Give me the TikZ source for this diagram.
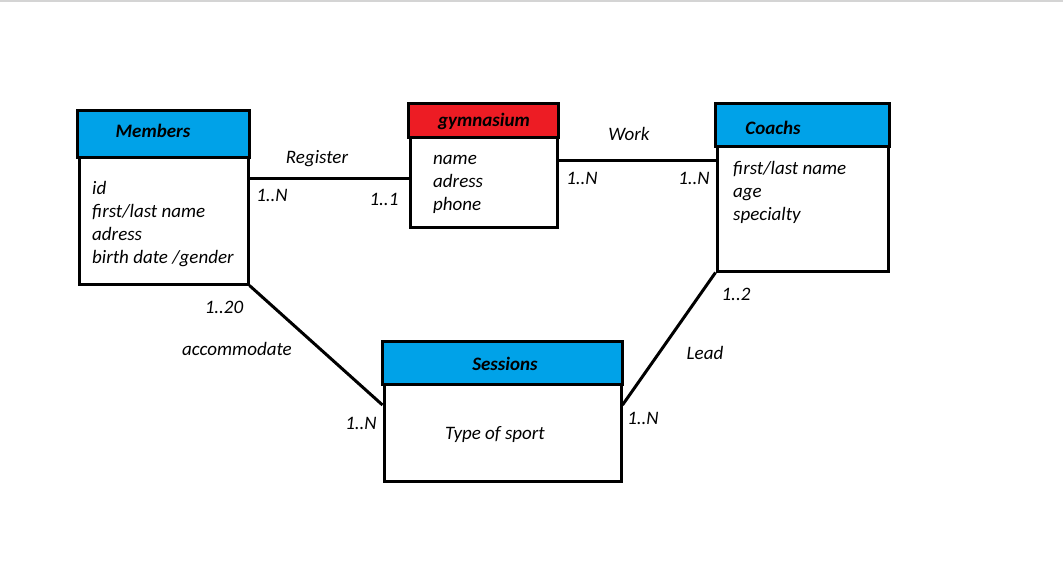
\documentclass[tikz,border=0pt]{standalone}
\usepackage{fontspec}
\setmainfont{Carlito}
\definecolor{hdrblue}{HTML}{00A2E8}
\definecolor{hdrred}{HTML}{ED1C24}
\definecolor{topline}{HTML}{D4D4D4}
\tikzset{
  entbox/.style={draw, line width=3pt, inner sep=0pt},
  hdr/.style={draw, line width=3pt},
  txt/.style={font=\fontsize{19}{22}\selectfont\itshape, inner sep=0pt, anchor=west, text height=13pt, text depth=4pt, yshift=-2pt},
  ttl/.style={font=\fontsize{19}{22}\selectfont\bfseries\itshape, inner sep=0pt, text height=13pt, text depth=4pt, yshift=-2pt},
  lbl/.style={font=\fontsize{19}{22}\selectfont\itshape, inner sep=0pt, text height=13pt, text depth=4pt, yshift=-2pt},
  conn/.style={line width=3pt},
}
\begin{document}
\begin{tikzpicture}[x=1pt,y=-1pt]
\useasboundingbox (0,0) rectangle (1063,560);
\fill[white] (0,0) rectangle (1063,560);
\fill[topline] (0,0) rectangle (1063,1.5);

% Members
\node[entbox, minimum width=169, minimum height=172] (mem) at (163.5,198) {};
\draw[hdr, fill=hdrblue] (mem.north west) rectangle ([yshift=-47pt]mem.north east);
\node[ttl] (memt) at (153,131) {Members};
\node[txt] (m1) at (92,188) {id};
\node[txt] (m2) at (92,211) {first/last name};
\node[txt] (m3) at (92,234) {adress};
\node[txt] (m4) at (92,257) {birth date /gender};

% Gymnasium
\node[entbox, minimum width=147, minimum height=122] (gym) at (483.5,166) {};
\draw[hdr, fill=hdrred] (gym.north west) rectangle ([yshift=-34pt]gym.north east);
\node[ttl] (gymt) at (484,120) {gymnasium};
\node[txt] (g1) at (433,158) {name};
\node[txt] (g2) at (433,181) {adress};
\node[txt] (g3) at (433,204) {phone};

% Coachs
\node[entbox, minimum width=171, minimum height=166] (coa) at (802.5,188) {};
\draw[hdr, fill=hdrblue] (coa.north west) rectangle ([yshift=-43pt]coa.north east);
\node[ttl] (coat) at (773,128) {Coachs};
\node[txt] (c1) at (733,168) {first/last name};
\node[txt] (c2) at (733,191) {age};
\node[txt] (c3) at (733,214) {specialty};

% Sessions
\node[entbox, minimum width=237, minimum height=138] (ses) at (502.5,412) {};
\draw[hdr, fill=hdrblue] (ses.north west) rectangle ([yshift=-43pt]ses.north east);
\node[ttl] (sest) at (505,364) {Sessions};
\node[lbl] (s1) at (495,433) {Type of sport};

% Connectors
\draw[conn] (mem.east |- 0,178) -- (gym.west |- 0,178);
\draw[conn] (gym.east |- 0,160) -- (coa.west |- 0,160);
\draw[conn] (mem.south east) -- (ses.west |- 0,405);
\draw[conn] (coa.south west) -- (ses.east |- 0,405);

% Labels
\node[lbl] (lr) at (317,157) {Register};
\node[lbl] (lr1) at (272,195) {1..N};
\node[lbl] (lr2) at (384,199) {1..1};
\node[lbl] (lw) at (629,134) {Work};
\node[lbl] (lw1) at (582,178) {1..N};
\node[lbl] (lw2) at (694,178) {1..N};
\node[lbl] (la1) at (224,307) {1..20};
\node[lbl] (la) at (237,349) {accommodate};
\node[lbl] (la2) at (361,423) {1..N};
\node[lbl] (ll1) at (736,294) {1..2};
\node[lbl] (ll) at (705,353) {Lead};
\node[lbl] (ll2) at (643,418) {1..N};
\end{tikzpicture}
\end{document}
